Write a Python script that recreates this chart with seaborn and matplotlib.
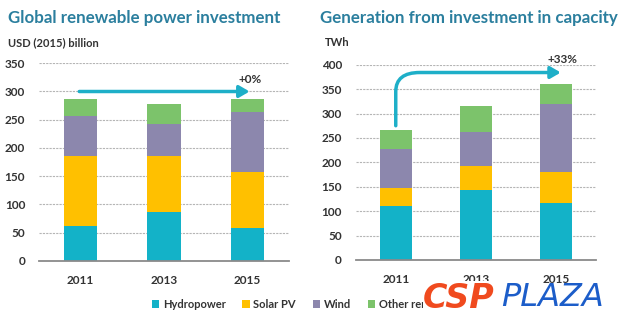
import matplotlib
matplotlib.use("Agg")
import matplotlib.pyplot as plt
import seaborn as sns
import numpy as np
import pandas as pd
from matplotlib.patches import FancyArrowPatch, Patch
from matplotlib.path import Path

years = ["2011", "2013", "2015"]
series = ["Hydropower", "Solar PV", "Wind", "Other renewables"]
colors = ["#13b2c8", "#ffc000", "#8c87ad", "#7cc36b"]

# Global renewable power investment, USD (2015) billion
inv_hydro = [62, 86, 58]
inv_solar = [123, 100, 99]
inv_wind = [72, 56, 106]
inv_other = [30, 36, 24]

# Generation from investment in capacity, TWh
gen_hydro = [111, 143, 116]
gen_solar = [37, 50, 65]
gen_wind = [79, 70, 138]
gen_other = [39, 52, 41]

sns.set_theme(style="white")
plt.rcParams["font.family"] = ["Lato", "DejaVu Sans"]

fig = plt.figure(figsize=(6.2, 3.22), dpi=100)
fig.patch.set_facecolor("white")
ax1 = fig.add_axes([39 / 620, 1 - 260.7 / 322, 250 / 620, 197.4 / 322])
ax2 = fig.add_axes([355.7 / 620, 1 - 260 / 322, 240.3 / 620, 195.3 / 322])

title_color = "#2b7f9e"
text_color = "#333333"


def stacked(ax, layers, ymax, step):
    cum = np.cumsum(np.array(layers, dtype=float), axis=0)
    for i in range(len(layers) - 1, -1, -1):
        df = pd.DataFrame({"year": years, "value": cum[i]})
        sns.barplot(data=df, x="year", y="value", color=colors[i], width=0.4,
                    saturation=1, ax=ax, zorder=3, linewidth=0)
    ax.set_xlim(-0.5, 2.5)
    ax.set_ylim(0, ymax)
    ax.set_yticks(np.arange(0, ymax + 1, step))
    ax.set_xlabel("")
    ax.set_ylabel("")
    for s in ["top", "right", "left"]:
        ax.spines[s].set_visible(False)
    ax.spines["bottom"].set_color("#8a8a8a")
    ax.spines["bottom"].set_linewidth(1.3)
    ax.spines["bottom"].set_zorder(4)
    for v in np.arange(step, ymax + 1, step):
        ax.axhline(v, color="#b5b5b5", lw=0.8, ls=(0, (2, 1)), zorder=1)
    ax.tick_params(axis="y", length=0, pad=10, labelsize=8.5, labelcolor=text_color)
    ax.tick_params(axis="x", length=0, pad=10, labelsize=8.5, labelcolor=text_color)
    for lab in ax.get_xticklabels() + ax.get_yticklabels():
        lab.set_fontweight("bold")
    ax.set_facecolor("white")


stacked(ax1, [inv_hydro, inv_solar, inv_wind, inv_other], 350, 50)
stacked(ax2, [gen_hydro, gen_solar, gen_wind, gen_other], 400, 50)

arrow_color = "#1eafc8"
# left arrow (flat)
a1 = FancyArrowPatch((-0.05, 300), (2.06, 300), arrowstyle="-|>,head_length=6,head_width=3.5",
                     color=arrow_color, lw=2.5, zorder=5, mutation_scale=1)
ax1.add_patch(a1)
ax1.text(2.03, 311, "+0%", ha="center", va="bottom", fontsize=8.5,
         fontweight="bold", color=text_color, zorder=6)

# right arrow (curved up then right)
verts = [(0, 275), (0, 345), (0, 384), (0.3, 384), (2.06, 384)]
codes = [Path.MOVETO, Path.LINETO, Path.CURVE3, Path.CURVE3, Path.LINETO]
a2 = FancyArrowPatch(path=Path(verts, codes), arrowstyle="-|>,head_length=6,head_width=3.5",
                     color=arrow_color, lw=2.5, zorder=5, mutation_scale=1)
ax2.add_patch(a2)
ax2.text(2.08, 399, "+33%", ha="center", va="bottom", fontsize=8.5,
         fontweight="bold", color=text_color, zorder=6)

# titles and units
fig.text(8 / 620, 1 - 18 / 322, "Global renewable power investment", fontsize=12.2,
         fontweight="bold", color=title_color, va="center", ha="left")
fig.text(320 / 620, 1 - 18 / 322, "Generation from investment in capacity", fontsize=12.2,
         fontweight="bold", color=title_color, va="center", ha="left")
fig.text(8 / 620, 1 - 43 / 322, "USD (2015) billion", fontsize=8,
         fontweight="bold", color=text_color, va="center", ha="left")
fig.text(325 / 620, 1 - 43 / 322, "TWh", fontsize=8,
         fontweight="bold", color=text_color, va="center", ha="left")

# legend
handles = [Patch(facecolor=c, edgecolor="none") for c in colors]
leg = fig.legend(handles, series, loc="center left", bbox_to_anchor=(146 / 620, 1 - 304 / 322),
                 ncol=4, frameon=False, fontsize=8, handlelength=0.7, handleheight=0.7,
                 handletextpad=0.3, columnspacing=1.5, borderpad=0)
leg.set_zorder(2)
for t in leg.get_texts():
    t.set_color(text_color)
    t.set_fontweight("bold")

# watermark logo
fig.text(423 / 620, 1 - 298 / 322, "CSP", fontsize=24, fontweight="heavy", fontstyle="italic",
         color="#f04a1e", va="center", ha="left", family=["DejaVu Sans"], zorder=10,
         bbox=dict(facecolor="white", edgecolor="none", pad=0.3))
fig.text(501 / 620, 1 - 298 / 322, "PLAZA", fontsize=23, fontweight="light", fontstyle="italic",
         color="#1c5dc9", va="center", ha="left", family=["DejaVu Sans"], zorder=10)

fig.savefig("out.png", dpi=100, facecolor="white")
